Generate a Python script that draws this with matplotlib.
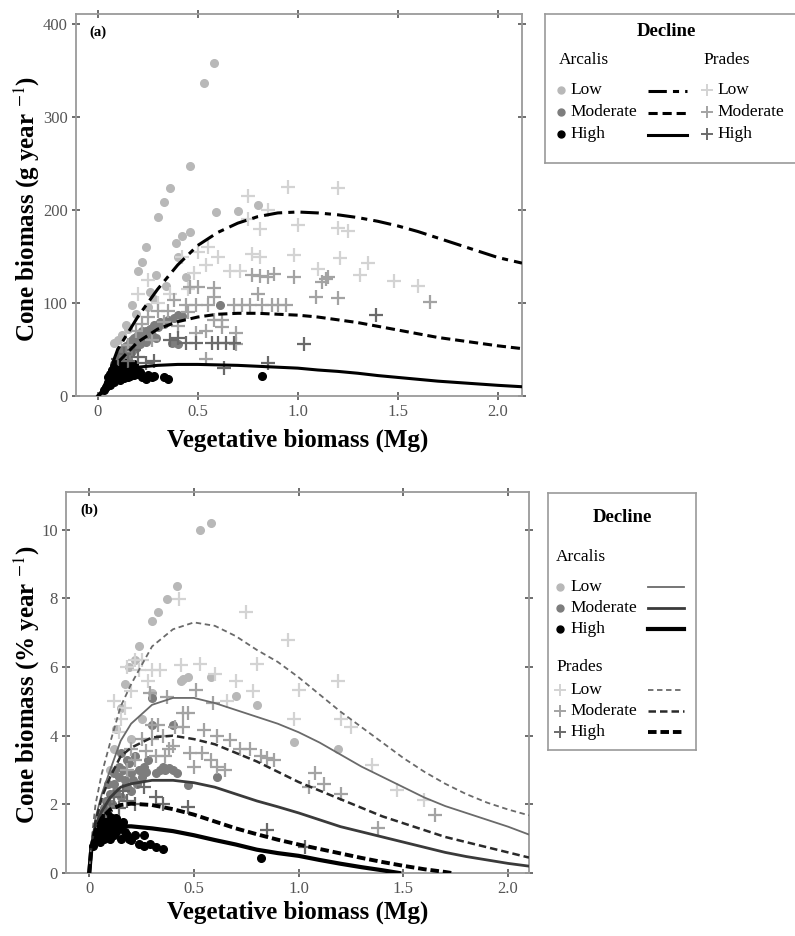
import matplotlib
matplotlib.use('Agg')
import matplotlib.pyplot as plt

plt.rcParams['font.family'] = ['Liberation Serif', 'DejaVu Serif']
plt.rcParams['mathtext.fontset'] = 'stix'

# ---------------- panel (a): cone biomass, g per year ----------------
# fitted curves
fit_x_a = [0, 0.02, 0.1, 0.2, 0.3, 0.4, 0.5, 0.6, 0.7, 0.8, 0.9, 1.0,
           1.1, 1.2, 1.3, 1.4, 1.5, 1.6, 1.7, 1.8, 1.9, 2.0, 2.12]
fit_low_a = [0, 3, 50, 85, 115, 141, 162, 176, 186, 193, 197, 198,
             197, 195, 192, 188, 183, 177, 170, 163, 156, 149, 143]
fit_mod_a = [0, 3, 36, 58, 72, 80, 85, 88, 89, 89, 88, 87,
             85, 82, 79, 75, 71, 67, 63, 60, 57, 54, 51]
fit_high_a = [0, 5, 26, 31, 33, 34, 34, 33.5, 33, 32, 31, 30,
              28, 26.5, 24.5, 22, 20, 18, 16, 14.5, 13, 11.5, 10]

# Arcalis (circles)
arc_low_x = [0.08, 0.10, 0.12, 0.15, 0.17, 0.20, 0.22, 0.24, 0.26, 0.29,
             0.30, 0.33, 0.36, 0.39, 0.40, 0.42, 0.44, 0.46, 0.46, 0.53,
             0.58, 0.59, 0.70, 0.80, 0.14, 0.19, 0.25, 0.28, 0.34]
arc_low_y = [57, 60, 66, 72, 98, 134, 144, 160, 112, 130,
             193, 209, 224, 165, 150, 172, 128, 177, 248, 337,
             358, 198, 199, 206, 76, 88, 96, 104, 118]
arc_mod_x = [0.08, 0.09, 0.10, 0.11, 0.12, 0.12, 0.13, 0.14, 0.14, 0.15,
             0.16, 0.16, 0.17, 0.18, 0.18, 0.19, 0.20, 0.20, 0.21, 0.22,
             0.22, 0.23, 0.24, 0.25, 0.26, 0.27, 0.28, 0.30, 0.31, 0.33,
             0.35, 0.38, 0.40, 0.42, 0.61, 0.37, 0.40,
             0.13, 0.17, 0.19, 0.24, 0.29, 0.15, 0.11]
arc_mod_y = [34, 38, 40, 44, 36, 48, 50, 42, 54, 46,
             52, 58, 48, 56, 62, 52, 60, 66, 56, 64,
             70, 62, 58, 68, 72, 66, 76, 74, 80, 78,
             82, 84, 87, 86, 98, 57, 56,
             44, 60, 64, 70, 62, 40, 50]
arc_high_x = [0.03, 0.04, 0.05, 0.05, 0.06, 0.06, 0.07, 0.07, 0.08, 0.08,
              0.08, 0.09, 0.09, 0.10, 0.10, 0.10, 0.11, 0.11, 0.12, 0.12,
              0.13, 0.13, 0.14, 0.14, 0.15, 0.15, 0.16, 0.16, 0.17, 0.18,
              0.19, 0.20, 0.21, 0.22, 0.24, 0.25, 0.27, 0.28, 0.33, 0.35, 0.82,
              0.09, 0.12, 0.14, 0.17, 0.18, 0.06, 0.11]
arc_high_y = [6, 10, 14, 20, 12, 24, 18, 28, 15, 22,
              32, 19, 26, 20, 30, 36, 17, 25, 22, 33,
              19, 28, 24, 31, 20, 27, 22, 30, 25, 23,
              28, 24, 26, 21, 18, 23, 20, 22, 21, 18, 22,
              34, 28, 36, 30, 34, 16, 30]

# Prades (crosses)
pr_low_x = [0.20, 0.25, 0.30, 0.36, 0.42, 0.48, 0.50, 0.55, 0.60, 0.66,
            0.71, 0.75, 0.77, 0.81, 0.81, 0.85, 0.95, 0.98, 1.00, 1.10,
            1.20, 1.20, 1.25, 1.21, 1.31, 1.35, 1.48, 1.60, 0.75, 0.54, 0.45]
pr_low_y = [110, 125, 100, 110, 150, 132, 155, 160, 150, 134,
            135, 215, 153, 180, 150, 200, 225, 152, 184, 137,
            224, 181, 178, 148, 130, 143, 124, 118, 190, 141, 115]
pr_mod_x = [0.30, 0.35, 0.38, 0.44, 0.46, 0.49, 0.50, 0.54, 0.55, 0.58,
            0.58, 0.58, 0.62, 0.62, 0.68, 0.69, 0.72, 0.76, 0.77, 0.80,
            0.81, 0.82, 0.85, 0.87, 0.88, 0.90, 0.94, 0.98, 1.09, 1.12,
            1.14, 1.15, 1.20, 1.66, 0.49, 0.54, 0.69, 0.25, 0.22,
            0.15, 0.19, 0.27, 0.33, 0.40, 0.45]
pr_mod_y = [91, 91, 103, 98, 117, 98, 117, 70, 98, 116,
            107, 82, 74, 82, 98, 68, 98, 98, 130, 110,
            129, 98, 128, 98, 131, 98, 98, 128, 107, 123,
            126, 128, 105, 101, 68, 40, 56, 85, 78,
            55, 70, 60, 80, 75, 90]
pr_high_x = [0.10, 0.13, 0.15, 0.18, 0.20, 0.24, 0.28, 0.44, 0.49, 0.57,
             0.60, 0.64, 0.63, 0.85, 1.03, 1.39, 0.36, 0.40, 0.68]
pr_high_y = [40, 45, 38, 50, 42, 35, 38, 57, 57, 57,
             57, 57, 30, 36, 56, 87, 60, 62, 57]

# ---------------- panel (b): cone biomass, % per year ----------------
fit_x_b = [0, 0.01, 0.03, 0.06, 0.1, 0.15, 0.2, 0.3, 0.4, 0.5, 0.6, 0.7, 0.8,
           0.9, 1.0, 1.1, 1.2, 1.3, 1.4, 1.5, 1.6, 1.7, 1.8, 1.9, 2.0, 2.1]
b_fit_arc_low = [0, 0.8, 1.6, 2.3, 3.0, 3.85, 4.35, 4.9, 5.1, 5.1, 4.95, 4.75, 4.55,
                 4.35, 4.1, 3.8, 3.45, 3.1, 2.8, 2.5, 2.2, 1.95, 1.75, 1.55, 1.35, 1.12]
b_fit_arc_mod = [0, 0.8, 1.4, 1.8, 2.2, 2.5, 2.6, 2.7, 2.7, 2.63, 2.5, 2.3, 2.1,
                 1.93, 1.75, 1.55, 1.35, 1.2, 1.05, 0.9, 0.75, 0.6, 0.48, 0.38, 0.28, 0.2]
b_fit_pr_low = [0, 0.9, 2.0, 2.9, 3.8, 4.85, 5.5, 6.6, 7.1, 7.3, 7.2, 6.9, 6.5,
                6.15, 5.7, 5.2, 4.7, 4.25, 3.8, 3.35, 2.95, 2.6, 2.3, 2.05, 1.85, 1.68]
b_fit_pr_mod = [0, 0.8, 1.5, 2.2, 2.8, 3.4, 3.65, 3.95, 4.0, 3.9, 3.75, 3.5, 3.25,
                2.95, 2.65, 2.4, 2.15, 1.9, 1.65, 1.45, 1.25, 1.05, 0.9, 0.75, 0.6, 0.45]
b_fit_arc_high_x = [0, 0.01, 0.03, 0.06, 0.1, 0.15, 0.2, 0.3, 0.4, 0.5, 0.6, 0.7,
                    0.8, 0.9, 1.0, 1.1, 1.2, 1.3, 1.4, 1.48]
b_fit_arc_high = [0, 0.7, 1.05, 1.25, 1.33, 1.36, 1.36, 1.3, 1.22, 1.1, 0.96, 0.83,
                  0.68, 0.58, 0.5, 0.38, 0.27, 0.17, 0.08, 0]
b_fit_pr_high_x = [0, 0.01, 0.03, 0.06, 0.1, 0.15, 0.2, 0.3, 0.4, 0.5, 0.6, 0.7,
                   0.8, 0.9, 1.0, 1.1, 1.2, 1.3, 1.4, 1.5, 1.6, 1.7, 1.73]
b_fit_pr_high = [0, 0.75, 1.25, 1.6, 1.85, 1.98, 2.02, 1.98, 1.86, 1.7, 1.5, 1.3,
                 1.13, 0.97, 0.83, 0.7, 0.57, 0.44, 0.32, 0.21, 0.11, 0.03, 0]

b_arc_low_x = [0.53, 0.58, 0.42, 0.37, 0.33, 0.30, 0.24, 0.22, 0.19, 0.17,
               0.15, 0.13, 0.44, 0.45, 0.47, 0.58, 0.70, 0.80, 0.98, 1.19,
               0.30, 0.25, 0.20, 0.12, 0.10]
b_arc_low_y = [10.0, 10.2, 8.35, 7.98, 7.6, 7.35, 6.6, 6.2, 6.0, 5.5,
               4.8, 4.2, 5.6, 5.65, 5.7, 5.72, 5.16, 4.89, 3.83, 3.62,
               5.24, 4.5, 3.9, 3.6, 3.0]
b_arc_mod_x = [0.05, 0.07, 0.08, 0.10, 0.11, 0.12, 0.13, 0.14, 0.15, 0.16,
               0.17, 0.18, 0.19, 0.20, 0.21, 0.22, 0.24, 0.25, 0.27, 0.28,
               0.30, 0.34, 0.36, 0.38, 0.40, 0.42, 0.47, 0.61, 0.30, 0.40, 0.15,
               0.18, 0.20, 0.23, 0.26, 0.32, 0.35, 0.12, 0.09, 0.14]
b_arc_mod_y = [1.7, 1.9, 2.1, 2.3, 2.0, 2.6, 2.4, 2.8, 2.2, 3.0,
               2.7, 2.5, 3.2, 2.9, 2.7, 3.4, 3.0, 2.8, 2.95, 3.3,
               5.1, 3.0, 3.0, 3.05, 3.0, 2.9, 2.57, 2.8, 4.3, 4.3, 3.5,
               3.3, 2.4, 2.6, 3.1, 2.9, 3.1, 2.9, 2.6, 3.1]
b_arc_high_x = [0.02, 0.03, 0.04, 0.05, 0.05, 0.06, 0.06, 0.07, 0.07, 0.08,
                0.08, 0.09, 0.09, 0.10, 0.10, 0.11, 0.11, 0.12, 0.12, 0.13,
                0.13, 0.14, 0.15, 0.15, 0.16, 0.17, 0.18, 0.19, 0.20, 0.22,
                0.24, 0.26, 0.26, 0.29, 0.32, 0.35, 0.82]
b_arc_high_y = [0.8, 1.0, 1.2, 0.9, 1.4, 1.1, 1.6, 1.0, 1.3, 1.5,
                1.1, 1.2, 1.7, 1.0, 1.4, 1.3, 1.6, 1.1, 1.5, 1.2,
                1.6, 1.4, 1.0, 1.3, 1.5, 1.2, 1.1, 1.0, 0.95, 1.1,
                0.85, 1.1, 0.8, 0.85, 0.75, 0.7, 0.43]
b_pr_low_x = [0.43, 0.75, 0.34, 0.44, 0.53, 0.80, 0.95, 1.19, 1.00, 0.98,
              1.20, 1.25, 1.35, 1.47, 1.60, 0.78, 0.66, 0.25, 0.20, 0.15,
              0.18, 0.28, 0.60, 0.70, 0.22, 0.24, 0.12, 0.14, 0.17, 0.30]
b_pr_low_y = [7.98, 7.59, 5.9, 6.05, 6.1, 6.1, 6.8, 5.58, 5.33, 4.5,
              4.5, 4.26, 3.15, 2.42, 2.13, 5.3, 5.0, 6.2, 5.3, 4.5,
              6.0, 5.6, 5.8, 5.6, 6.2, 5.9, 5.0, 4.1, 4.8, 5.9]
b_pr_mod_x = [0.29, 0.37, 0.51, 0.59, 0.45, 0.47, 0.30, 0.33, 0.41, 0.45,
              0.55, 0.61, 0.67, 0.72, 0.77, 0.82, 0.48, 0.54, 0.27, 0.36,
              0.61, 0.65, 0.85, 0.88, 1.05, 1.08, 1.12, 1.20, 1.38, 1.65,
              0.25, 0.20, 0.40, 0.18, 0.22, 0.30, 0.32, 0.35, 0.38, 0.50, 0.58]
b_pr_mod_y = [5.24, 5.14, 5.34, 4.95, 4.65, 4.65, 4.31, 4.3, 4.25, 4.25,
              4.17, 4.0, 3.88, 3.6, 3.6, 3.4, 3.5, 3.5, 3.55, 3.4,
              3.1, 3.0, 3.35, 3.3, 2.5, 2.9, 2.6, 2.3, 1.3, 1.69,
              3.9, 3.6, 3.7, 3.0, 3.3, 3.9, 3.4, 4.0, 3.6, 3.1, 3.3]
b_pr_high_x = [0.08, 0.10, 0.12, 0.14, 0.16, 0.18, 0.22, 0.32, 0.47, 0.85, 1.03, 0.26, 0.35]
b_pr_high_y = [1.8, 2.0, 2.2, 1.9, 2.4, 2.1, 2.0, 2.22, 1.93, 1.25, 0.75, 2.5, 2.0]

levels = ['Low', 'Moderate', 'High']
arc_colors = ['#b8b8b8', '#7d7d7d', '#000000']
pr_colors = ['#d3d3d3', '#a3a3a3', '#6a6a6a']
spine_col = '#9a9a9a'

fig = plt.figure(figsize=(7.95, 9.36), dpi=100)


def style_axes(ax, xlim, ylim, yticks):
    ax.set_xlim(*xlim)
    ax.set_ylim(*ylim)
    ax.set_xticks([0, 0.5, 1.0, 1.5, 2.0])
    ax.set_xticklabels(['0', '0.5', '1.0', '1.5', '2.0'])
    ax.set_yticks(yticks)
    ax.tick_params(direction='inout', length=6, width=1.2, color='#555555',
                   labelsize=12, labelcolor='#555555', top=True, right=True,
                   pad=3)
    for s in ax.spines.values():
        s.set_color(spine_col)
        s.set_linewidth(1.3)


def draw_points(ax, arc, pr):
    for (x, y), c in zip(arc, arc_colors):
        ax.plot(x, y, 'o', ls='none', ms=5.5, color=c, mec=c, zorder=3)
    for (x, y), c in zip(pr, pr_colors):
        ax.plot(x, y, '+', ls='none', ms=10, mew=1.6, color=c, zorder=3)


# ---- top panel ----
ax1 = fig.add_axes([0.0956, 0.5769, 0.5610, 0.4081])
draw_points(ax1,
            [(arc_low_x, arc_low_y), (arc_mod_x, arc_mod_y), (arc_high_x, arc_high_y)],
            [(pr_low_x, pr_low_y), (pr_mod_x, pr_mod_y), (pr_high_x, pr_high_y)])
ax1.plot(fit_x_a, fit_low_a, color='black', lw=2.2, ls=(0, (6, 2, 2, 2)), zorder=4)
ax1.plot(fit_x_a, fit_mod_a, color='black', lw=2.2, ls=(0, (3, 1.6)), zorder=4)
ax1.plot(fit_x_a, fit_high_a, color='black', lw=2.2, zorder=4)
style_axes(ax1, (-0.108, 2.12), (0, 411), [0, 100, 200, 300, 400])
ax1.text(0.03, 0.97, '(a)', transform=ax1.transAxes, fontsize=10.5,
         fontweight='bold', va='top', ha='left')

# ---- bottom panel ----
ax2 = fig.add_axes([0.0830, 0.0673, 0.5824, 0.4071])
draw_points(ax2,
            [(b_arc_low_x, b_arc_low_y), (b_arc_mod_x, b_arc_mod_y), (b_arc_high_x, b_arc_high_y)],
            [(b_pr_low_x, b_pr_low_y), (b_pr_mod_x, b_pr_mod_y), (b_pr_high_x, b_pr_high_y)])
ax2.plot(fit_x_b, b_fit_arc_low, color='#6a6a6a', lw=1.3, zorder=4)
ax2.plot(fit_x_b, b_fit_arc_mod, color='#3a3a3a', lw=2.0, zorder=4)
ax2.plot(b_fit_arc_high_x, b_fit_arc_high, color='black', lw=3.0, zorder=4)
ax2.plot(fit_x_b, b_fit_pr_low, color='#6a6a6a', lw=1.3, ls=(0, (3, 2)), zorder=4)
ax2.plot(fit_x_b, b_fit_pr_mod, color='#2a2a2a', lw=1.8, ls=(0, (3, 1.6)), zorder=4)
ax2.plot(b_fit_pr_high_x, b_fit_pr_high, color='black', lw=2.8, ls=(0, (2.2, 1)), zorder=4)
style_axes(ax2, (-0.111, 2.10), (0, 11.1), [0, 2, 4, 6, 8, 10])
ax2.text(0.03, 0.97, '(b)', transform=ax2.transAxes, fontsize=10.5,
         fontweight='bold', va='top', ha='left')

# axis labels
lab = dict(fontsize=18, fontweight='bold', ha='center', va='center')
fig.text(298 / 795, 1 - 440 / 936, 'Vegetative biomass (Mg)', **lab)
fig.text(298 / 795, 1 - 912 / 936, 'Vegetative biomass (Mg)', **lab)
fig.text(27 / 795, 1 - 209 / 936, r'Cone biomass (g year $^{-1}$)', rotation=90, **lab)
fig.text(27 / 795, 1 - 685 / 936, r'Cone biomass (% year $^{-1}$)', rotation=90, **lab)


def legend_axes(x0, y0, x1, y1):
    lax = fig.add_axes([x0 / 795, 1 - y1 / 936, (x1 - x0) / 795, (y1 - y0) / 936])
    lax.set_xlim(x0, x1)
    lax.set_ylim(y1, y0)
    lax.set_xticks([])
    lax.set_yticks([])
    for s in lax.spines.values():
        s.set_color(spine_col)
        s.set_linewidth(1.2)
    return lax


tfs = 12.5
# ---- top legend ----
lg1 = legend_axes(545, 14, 802, 163)
lg1.text(666, 32, 'Decline', fontsize=13.5, fontweight='bold', ha='center', va='center')
lg1.text(559, 60, 'Arcalis', fontsize=tfs, ha='left', va='center')
lg1.text(703, 60, 'Prades', fontsize=tfs, ha='left', va='center')
top_styles = [(0, (6, 2, 2, 2)), (0, (3, 1.6)), '-']
for i, (lv, ry) in enumerate(zip(levels, [90, 112, 134])):
    lg1.plot([561], [ry], 'o', ms=5, color=arc_colors[i])
    lg1.text(570, ry, lv, fontsize=tfs, ha='left', va='center')
    lg1.plot([648, 687], [ry + 1, ry + 1], color='black', lw=2.2, ls=top_styles[i])
    lg1.plot([707], [ry], '+', ms=9, mew=1.4, color=pr_colors[i])
    lg1.text(717, ry, lv, fontsize=tfs, ha='left', va='center')

# ---- bottom legend ----
lg2 = legend_axes(548, 493, 696, 750)
lg2.text(622, 517, 'Decline', fontsize=13.5, fontweight='bold', ha='center', va='center')
lg2.text(556, 557, 'Arcalis', fontsize=tfs, ha='left', va='center')
lg2.text(556, 667, 'Prades', fontsize=tfs, ha='left', va='center')
arc_lines = [dict(color='#6a6a6a', lw=1.3), dict(color='#3a3a3a', lw=2.0),
             dict(color='black', lw=3.0)]
pr_lines = [dict(color='#6a6a6a', lw=1.3, ls=(0, (3, 2))),
            dict(color='#2a2a2a', lw=1.8, ls=(0, (3, 1.6))),
            dict(color='black', lw=2.8, ls=(0, (2.2, 1)))]
for i, (lv, ry) in enumerate(zip(levels, [587, 608, 629])):
    lg2.plot([560], [ry], 'o', ms=5, color=arc_colors[i])
    lg2.text(570, ry, lv, fontsize=tfs, ha='left', va='center')
    lg2.plot([648, 684], [ry, ry], **arc_lines[i])
for i, (lv, ry) in enumerate(zip(levels, [690, 711, 732])):
    lg2.plot([560], [ry], '+', ms=9, mew=1.4, color=pr_colors[i])
    lg2.text(570, ry, lv, fontsize=tfs, ha='left', va='center')
    lg2.plot([648, 684], [ry, ry], **pr_lines[i])

fig.savefig('out.png', dpi=100)
